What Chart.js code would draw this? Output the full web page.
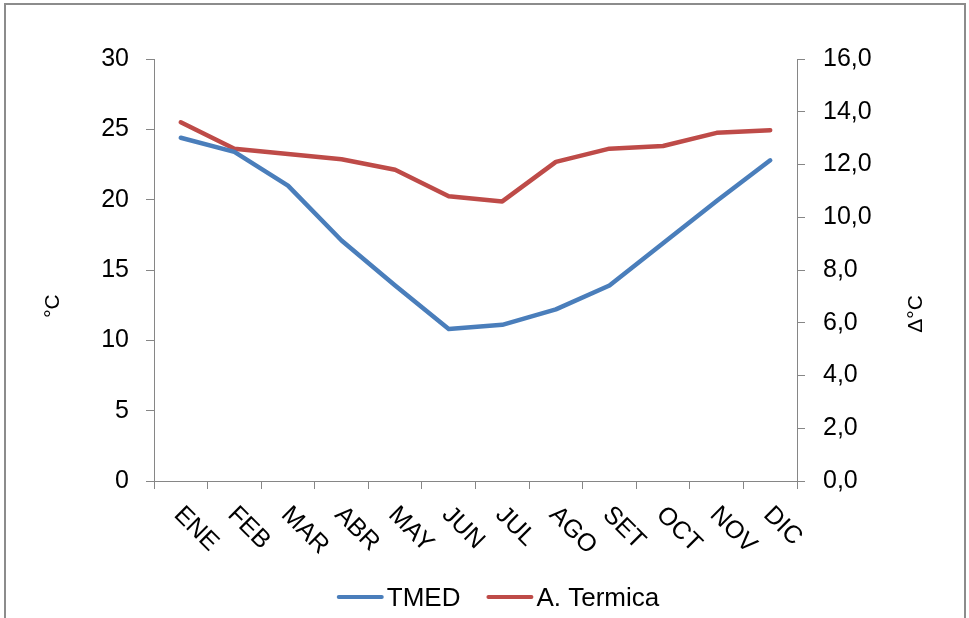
<!DOCTYPE html>
<html>
<head>
<meta charset="utf-8">
<script src="https://cdn.jsdelivr.net/npm/chart.js@4/dist/chart.umd.min.js"></script>
<style>
  html, body { margin: 0; padding: 0; background: #ffffff; }
  #wrap { position: relative; width: 969px; height: 618px; }
</style>
</head>
<body>
<div id="wrap"><canvas id="c" width="969" height="618"></canvas></div>
<script>
// ---- data ----
const categories = ['ENE', 'FEB', 'MAR', 'ABR', 'MAY', 'JUN', 'JUL', 'AGO', 'SET', 'OCT', 'NOV', 'DIC'];
const tmed = [24.4, 23.4, 21.0, 17.1, 13.9, 10.8, 11.1, 12.2, 13.9, 16.9, 19.9, 22.8];
const aTermica = [13.6, 12.6, 12.4, 12.2, 11.8, 10.8, 10.6, 12.1, 12.6, 12.7, 13.2, 13.3];
const leftTicks = [0, 5, 10, 15, 20, 25, 30];
const rightTicks = [0, 2, 4, 6, 8, 10, 12, 14, 16];
const seriesNames = ['TMED', 'A. Termica'];
const axisTitles = ['°C', 'Δ°C'];

const FONT = '"Liberation Sans", Arial, sans-serif';
const AXIS = '#868686';

const deco = {
  id: 'deco',
  beforeDraw(chart) {
    const ctx = chart.ctx;
    ctx.save();
    ctx.fillStyle = '#ffffff';
    ctx.fillRect(0, 0, chart.width, chart.height);
    ctx.strokeStyle = '#8c8c8c';
    ctx.lineWidth = 2;
    ctx.beginPath();
    ctx.moveTo(5, 630); ctx.lineTo(5, 4); ctx.lineTo(965, 4); ctx.lineTo(965, 630);
    ctx.stroke();
    ctx.restore();
  },
  afterDraw(chart) {
    const ctx = chart.ctx;
    const xs = chart.scales.x;
    ctx.save();
    ctx.fillStyle = '#000000';
    // rotated category labels
    ctx.font = '25px ' + FONT;
    ctx.textAlign = 'left';
    ctx.textBaseline = 'alphabetic';
    categories.forEach((lab, i) => {
      const px = xs.getPixelForValue(i);
      ctx.save();
      ctx.translate(px + 5, chart.chartArea.bottom + 22);
      ctx.rotate(Math.PI / 4);
      ctx.fillText(lab, 0, 18);
      ctx.restore();
    });
    // axis titles
    ctx.font = '21px ' + FONT;
    ctx.textAlign = 'center';
    ctx.textBaseline = 'middle';
    ctx.save();
    ctx.translate(53, 306);
    ctx.rotate(-Math.PI / 2);
    ctx.fillText(axisTitles[0], 0, 0);
    ctx.restore();
    ctx.save();
    ctx.translate(916, 314);
    ctx.rotate(-Math.PI / 2);
    ctx.fillText(axisTitles[1], 0, 0);
    ctx.restore();
    // legend
    ctx.font = '26px ' + FONT;
    ctx.textAlign = 'left';
    ctx.textBaseline = 'alphabetic';
    const ds = chart.data.datasets;
    const lineLen = 47, gapTxt = 3, gapItem = 26;
    const widths = ds.map(d => ctx.measureText(d.label).width);
    const total = widths.reduce((a, w) => a + lineLen + gapTxt + w, 0) + gapItem * (ds.length - 1);
    let x = 498 - total / 2;
    const ly = 597;
    ds.forEach((d, i) => {
      ctx.strokeStyle = d.borderColor;
      ctx.lineWidth = 4;
      ctx.lineCap = 'round';
      ctx.beginPath();
      ctx.moveTo(x + 2, ly); ctx.lineTo(x + lineLen - 2, ly);
      ctx.stroke();
      x += lineLen + gapTxt;
      ctx.fillText(d.label, x, ly + 9);
      x += widths[i] + gapItem;
    });
    ctx.restore();
  }
};

new Chart(document.getElementById('c'), {
  type: 'line',
  data: {
    labels: categories,
    datasets: [
      { label: seriesNames[0], data: tmed, yAxisID: 'y', borderColor: '#4A7EBB', backgroundColor: '#4A7EBB',
        borderWidth: 4.5, pointRadius: 0, tension: 0, borderCapStyle: 'round', borderJoinStyle: 'round' },
      { label: seriesNames[1], data: aTermica, yAxisID: 'y1', borderColor: '#BE4B48', backgroundColor: '#BE4B48',
        borderWidth: 4.5, pointRadius: 0, tension: 0, borderCapStyle: 'round', borderJoinStyle: 'round' }
    ]
  },
  options: {
    responsive: false,
    animation: false,
    devicePixelRatio: 1,
    layout: { padding: { top: 59, left: 0, right: 0, bottom: 0 } },
    plugins: { legend: { display: false }, tooltip: { enabled: false } },
    scales: {
      x: {
        type: 'category',
        offset: true,
        grid: { offset: true, drawOnChartArea: false, drawTicks: true, tickLength: 8, color: AXIS },
        border: { display: true, color: AXIS, width: 1 },
        ticks: { display: false },
        afterFit(scale) { scale.height = 137; }
      },
      y: {
        position: 'left',
        min: 0, max: 30,
        afterBuildTicks(scale) { scale.ticks = leftTicks.map(v => ({ value: v })); },
        grid: { drawOnChartArea: false, drawTicks: true, tickLength: 8, color: AXIS },
        border: { display: true, color: AXIS, width: 1 },
        ticks: { color: '#000', font: { family: FONT, size: 25 }, padding: 17,
                 callback: v => String(v) },
        afterFit(scale) { scale.width = 154; }
      },
      y1: {
        position: 'right',
        min: 0, max: 16,
        afterBuildTicks(scale) { scale.ticks = rightTicks.map(v => ({ value: v })); },
        grid: { drawOnChartArea: false, drawTicks: true, tickLength: 8, color: AXIS },
        border: { display: true, color: AXIS, width: 1 },
        ticks: { color: '#000', font: { family: FONT, size: 25 }, padding: 18,
                 callback: v => Number(v).toFixed(1).replace('.', ',') },
        afterFit(scale) { scale.width = 172; }
      }
    }
  },
  plugins: [deco]
});
</script>
</body>
</html>
